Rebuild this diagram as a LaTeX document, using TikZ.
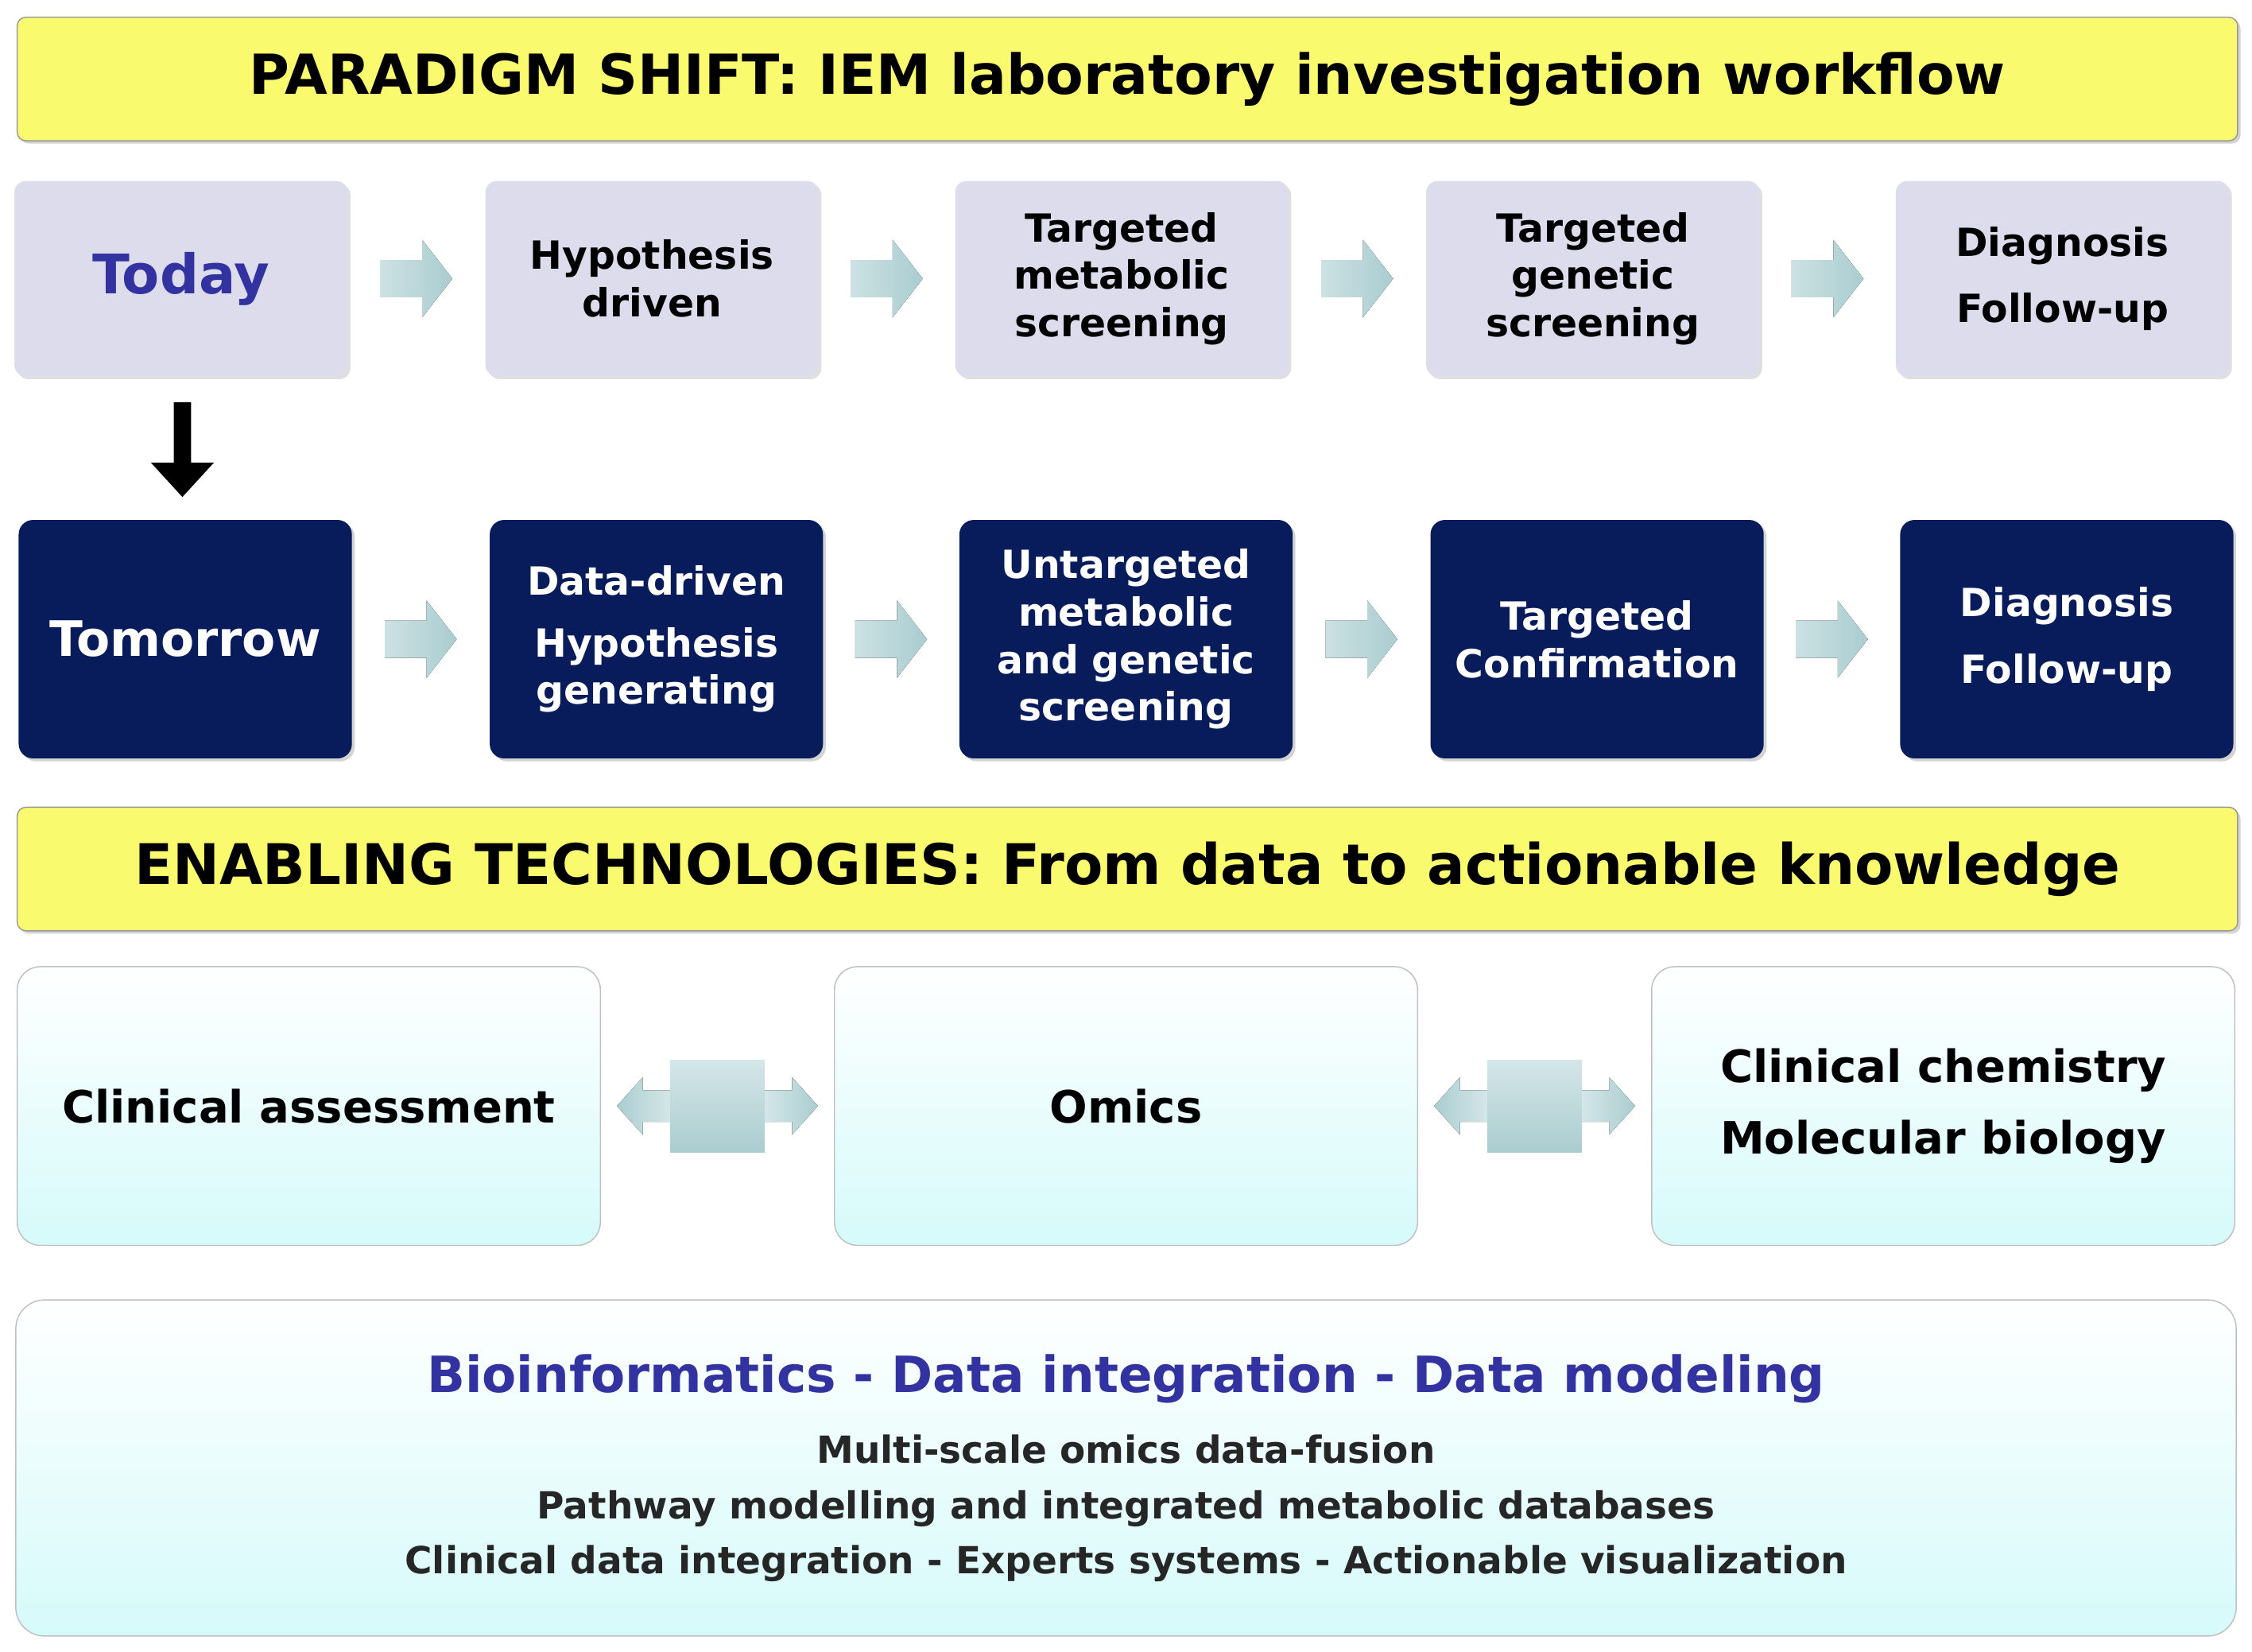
\documentclass[tikz,border=0pt]{standalone}
\usepackage{fontspec}
\setmainfont{DejaVu Sans}
\usetikzlibrary{calc,shadows,positioning}
\definecolor{banner}{RGB}{250,250,110}
\definecolor{lavender}{RGB}{220,220,236}
\definecolor{navy}{RGB}{8,28,92}
\definecolor{paleteal}{RGB}{214,250,250}
\definecolor{arrowteal}{RGB}{170,205,208}
\definecolor{headblue}{RGB}{50,50,160}

\tikzset{
  banner/.style={draw=black!40, fill=banner, rounded corners=3, minimum height=43, font=\fontsize{19.2}{22}\selectfont\bfseries, drop shadow={opacity=0.35,shadow xshift=1pt,shadow yshift=-1pt}},
  todaybox/.style={fill=lavender, rounded corners=4, minimum width=116, minimum height=68, align=center, font=\fontsize{13.5}{16.5}\selectfont\bfseries, drop shadow={opacity=0.25,shadow xshift=1pt,shadow yshift=-1pt}},
  tomorrowbox/.style={fill=navy, text=white, rounded corners=5, minimum width=116, minimum height=83, align=center, font=\fontsize{13.5}{16.5}\selectfont\bfseries, drop shadow={opacity=0.35,shadow xshift=1pt,shadow yshift=-1pt}},
  techbox/.style={draw=black!25, top color=white, bottom color=paleteal, rounded corners=8, minimum width=203, minimum height=97, align=center, font=\fontsize{15.5}{25}\selectfont\bfseries},
  pics/flowarrow/.style={code={
    \fill[left color=arrowteal!60, right color=arrowteal] (-25,-13) -- (4,-13) -- (4,-27) -- (25,0) -- (4,27) -- (4,13) -- (-25,13) -- cycle;}},
  pics/twowayarrow/.style={code={
    \fill[top color=arrowteal!50, bottom color=arrowteal] (-33,-32) rectangle (33,32);
    \fill[left color=arrowteal!50, right color=arrowteal] (33,-11) -- (52,-11) -- (52,-20) -- (70,0) -- (52,20) -- (52,11) -- (33,11) -- cycle;
    \fill[right color=arrowteal!50, left color=arrowteal] (-33,-11) -- (-52,-11) -- (-52,-20) -- (-70,0) -- (-52,20) -- (-52,11) -- (-33,11) -- cycle;}}
}

\begin{document}
\begin{tikzpicture}[x=0.5pt,y=0.5pt,yscale=-1]
\useasboundingbox (0,0) rectangle (1568,1150);

% banners
\node[banner, minimum width=773] (shift) at (785,55) {PARADIGM SHIFT: IEM laboratory investigation workflow};
\node[banner, minimum width=773, font=\fontsize{19.5}{22}\selectfont\bfseries] (enable) at (785,605) {ENABLING TECHNOLOGIES: From data to actionable knowledge};

% today
\node[todaybox, text=headblue, font=\fontsize{19}{22}\selectfont\bfseries] (today) at (126,194) {Today};
\node[todaybox] (hypo) at (454,194) {Hypothesis\\driven};
\node[todaybox] (tmeta) at (781,194) {Targeted\\metabolic\\screening};
\node[todaybox] (tgene) at (1109,194) {Targeted\\genetic\\screening};
\node[todaybox, font=\fontsize{13.5}{23}\selectfont\bfseries] (tdiag) at (1436,194) {Diagnosis\\Follow-up};

% tomorrow
\node[tomorrowbox, font=\fontsize{17}{20}\selectfont\bfseries] (tomorrow) at (129,445) {Tomorrow};
\node[tomorrowbox, font=\fontsize{13.5}{16.5}\selectfont\bfseries] (datadriven) at (457,445) {Data-driven\\[5pt]Hypothesis\\generating};
\node[tomorrowbox] (untarget) at (784,445) {Untargeted\\metabolic\\and genetic\\screening};
\node[tomorrowbox] (confirm) at (1112,445) {Targeted\\Confirmation};
\node[tomorrowbox, font=\fontsize{13.5}{23}\selectfont\bfseries] (fdiag) at (1439,445) {Diagnosis\\Follow-up};

% flow arrows
\foreach \a/\b in {today/hypo,hypo/tmeta,tmeta/tgene,tgene/tdiag,tomorrow/datadriven,datadriven/untarget,untarget/confirm,confirm/fdiag}
  \pic at ($(\a.east)!0.5!(\b.west)$) {flowarrow};

% today to tomorrow
\coordinate (downtop) at (127,280);
\coordinate (downend) at (127,346);
\fill (downtop) ++(-6,0) -- ++(12,0) -- ++(0,42) -- ++(16,0) -- (downend) -- ++(-22,-24) -- ++(16,0) -- cycle;

% technologies
\node[techbox] (clinical) at (215,770) {Clinical assessment};
\node[techbox] (omics) at (784,770) {Omics};
\node[techbox] (chem) at (1353,770) {Clinical chemistry\\Molecular biology};
\pic at ($(clinical.east)!0.5!(omics.west)$) {twowayarrow};
\pic at ($(omics.east)!0.5!(chem.west)$) {twowayarrow};

% bioinformatics
\node[draw=black!25, top color=white, bottom color=paleteal, rounded corners=10, minimum width=773, minimum height=117] (bioinf) at (784,1022) {};
\node[text=headblue, font=\fontsize{17.4}{20}\selectfont\bfseries] (biohead) at (784,960) {Bioinformatics - Data integration - Data modeling};
\node[align=center, font=\fontsize{13}{19.2}\selectfont\bfseries, text=black!85, below=4pt of biohead] (biolines) {Multi-scale omics data-fusion\\Pathway modelling and integrated metabolic databases\\Clinical data integration - Experts systems - Actionable visualization};
\end{tikzpicture}
\end{document}
